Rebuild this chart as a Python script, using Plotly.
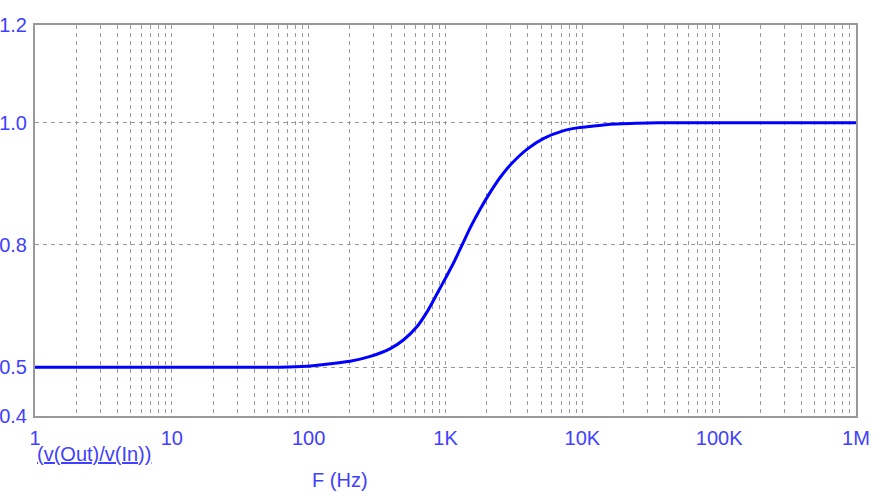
import plotly.graph_objects as go

# Data (frequency in Hz, gain v(Out)/v(In))
freq = [1, 10, 30, 62, 97, 144, 201, 282, 395, 495, 620, 733, 867, 1027, 1149,
        1322, 1521, 1799, 2070, 2300, 2522, 2985, 3953, 5225, 7326, 9420, 11800,
        16000, 25000, 36000, 100000, 1000000]
gain = [0.5, 0.5, 0.5, 0.5, 0.502, 0.507, 0.512, 0.522, 0.538, 0.556, 0.583,
        0.613, 0.650, 0.688, 0.714, 0.750, 0.786, 0.824, 0.853, 0.873, 0.889, 0.914,
        0.946, 0.968, 0.984, 0.990, 0.993, 0.997, 0.999, 1.0, 1.0, 1.0]

x_decades = [1, 10, 100, 1000, 10000, 100000, 1000000]
x_labels = ["1", "10", "100", "1K", "10K", "100K", "1M"]
y_ticks = [0.4, 0.5, 0.75, 1.0, 1.2]
y_labels = ["0.4", "0.5", "0.8", "1.0", "1.2"]

# all grid positions 1..9 per decade
x_tickvals, x_ticktext = [], []
for d, lab in zip(x_decades, x_labels):
    if d == 1000000:
        x_tickvals.append(d)
        x_ticktext.append(lab)
        break
    for k in range(1, 10):
        x_tickvals.append(d * k)
        x_ticktext.append(lab if k == 1 else "")

txt_color = "#4040ff"
font = dict(family="Liberation Sans, Arial, sans-serif", size=20, color=txt_color)

fig = go.Figure()
fig.add_trace(go.Scatter(x=freq, y=gain, mode="lines",
                         line=dict(color="#0000ff", width=3, shape="spline", smoothing=0.6)))

fig.update_layout(
    width=874, height=497,
    margin=dict(l=35, r=18, t=25, b=81),
    paper_bgcolor="white", plot_bgcolor="white",
    showlegend=False,
    font=font,
    xaxis=dict(type="log", range=[0, 6], tickvals=x_tickvals, ticktext=x_ticktext,
               showgrid=True, gridcolor="#999999", griddash="4px,4px", gridwidth=1,
               showline=True, linecolor="#999999", linewidth=2, mirror=True,
               ticks="", tickfont=font, zeroline=False, automargin=False,
               ticklabelstandoff=3),
    yaxis=dict(range=[0.4, 1.2], tickvals=y_ticks, ticktext=y_labels,
               showgrid=True, gridcolor="#999999", griddash="4px,4px", gridwidth=1,
               showline=True, linecolor="#999999", linewidth=2, mirror=True,
               ticks="", tickfont=font, zeroline=False, automargin=False,
               ticklabelstandoff=2),
    annotations=[
        dict(text="<u>(v(Out)/v(In))</u>", xref="paper", yref="paper", x=0, y=0,
             xanchor="left", yanchor="middle", yshift=-38, showarrow=False, font=font),
        dict(text="F (Hz)", xref="paper", yref="paper", x=0.3715, y=0,
             xanchor="center", yanchor="middle", yshift=-64, showarrow=False, font=font),
    ],
)

# remove the default 8px page margin so the figure sits at the window's top-left
fig.write_html("out.html", config={"displayModeBar": False},
               post_script="document.body.style.margin='0';document.body.style.overflow='hidden';")
